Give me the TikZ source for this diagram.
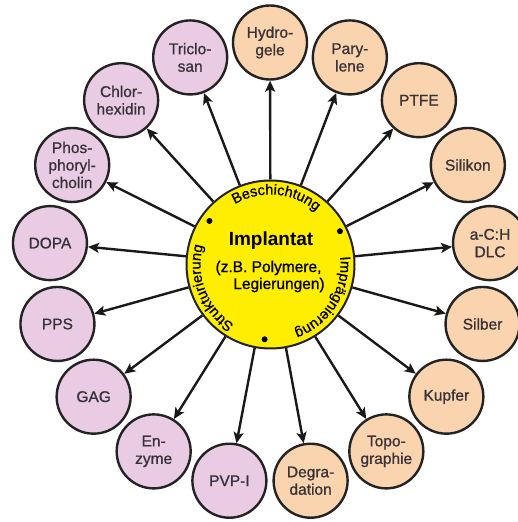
\documentclass[tikz,border=0pt]{standalone}
\usepackage{fontspec}
\setmainfont{Liberation Sans}
\newfontfamily\lblfont{Liberation Sans}[FakeBold=0.9]
\usetikzlibrary{arrows.meta,decorations.text}
\definecolor{pinkf}{RGB}{233,204,227}
\definecolor{peachf}{RGB}{249,212,174}
\definecolor{yel}{RGB}{255,238,0}
\definecolor{edge}{RGB}{35,35,35}
\definecolor{txt}{RGB}{55,50,55}
\begin{document}
\begin{tikzpicture}[x=1pt,y=1pt,
  outer/.style={circle, draw=edge, line width=2.4pt, minimum size=74pt, inner sep=0pt, align=center, font=\lblfont\fontsize{15.5}{17.5}\selectfont, text=txt},
  pinkc/.style={outer, fill=pinkf},
  peachc/.style={outer, fill=peachf},
  arr/.style={line width=2.4pt, draw=black!90, -{Stealth[length=11pt,width=10pt,inset=2.5pt]}},
  arclabel/.style={decorate, decoration={text along path, text align=center, text={|\lblfont\fontsize{14.5}{14.5}\selectfont|#1}}}
]
\useasboundingbox (0,0) rectangle (517,522);
\coordinate (O) at (270,258.5);
\node[circle, draw=edge, fill=yel, line width=2pt, minimum size=168pt, inner sep=0pt] (c) at (270.5,257.5) {};
% outer nodes
\node[peachc] (n0)  at ([shift={(90:221)}]O) {Hydro-\\gele};
\node[peachc] (n1)  at ([shift={(68.8235:221)}]O) {Pary-\\lene};
\node[peachc] (n2)  at ([shift={(47.6471:221)}]O) {PTFE};
\node[peachc] (n3)  at ([shift={(26.4706:221)}]O) {Silikon};
\node[peachc] (n4)  at ([shift={(5.2941:221)}]O) {a-C:H\\DLC};
\node[peachc] (n5)  at ([shift={(-15.8824:221)}]O) {Silber};
\node[peachc] (n6)  at ([shift={(-37.0588:221)}]O) {Kupfer};
\node[peachc] (n7)  at ([shift={(-58.2353:221)}]O) {Topo-\\graphie};
\node[peachc] (n8)  at ([shift={(-79.4118:221)}]O) {Degra-\\dation};
\node[pinkc]  (n9)  at ([shift={(-100.5882:221)}]O) {PVP-I};
\node[pinkc]  (n10) at ([shift={(-121.7647:221)}]O) {En-\\zyme};
\node[pinkc]  (n11) at ([shift={(-142.9412:221)}]O) {GAG};
\node[pinkc]  (n12) at ([shift={(-164.1176:221)}]O) {PPS};
\node[pinkc]  (n13) at ([shift={(-185.2941:221)}]O) {DOPA};
\node[pinkc]  (n14) at ([shift={(-206.4706:221)}]O) {Phos-\\phoryl-\\cholin};
\node[pinkc]  (n15) at ([shift={(-227.6471:221)}]O) {Chlor-\\hexidin};
\node[pinkc]  (n16) at ([shift={(-248.8235:221)}]O) {Triclo-\\san};
% arrows
\foreach \k in {0,...,16} \draw[arr] (c) -- (n\k);
% centre text
\node[font=\bfseries\fontsize{19}{19}\selectfont] (t1) at (271,281) {Implantat};
\node[font=\lblfont\fontsize{15.5}{15.5}\selectfont] (t2) at (268.5,254) {(z.B. Polymere,};
\node[font=\lblfont\fontsize{15.5}{15.5}\selectfont] (t3) at (279,237) {Legierungen)};
% arc labels
\path[arclabel=Beschichtung] ([shift={(140:70)}]c.center) arc[start angle=140, end angle=30, radius=70];
\path[arclabel=Imprägnierung] ([shift={(25:70)}]c.center) arc[start angle=25, end angle=-89, radius=70];
\path[arclabel=Strukturierung] ([shift={(258:70)}]c.center) arc[start angle=258, end angle=145, radius=70];
% dots
\fill ([shift={(144.5:75)}]c.center) circle[radius=3pt];
\fill ([shift={(25.6:77)}]c.center) circle[radius=3pt];
\fill ([shift={(-94.5:75)}]c.center) circle[radius=3pt];
\end{tikzpicture}
\end{document}
